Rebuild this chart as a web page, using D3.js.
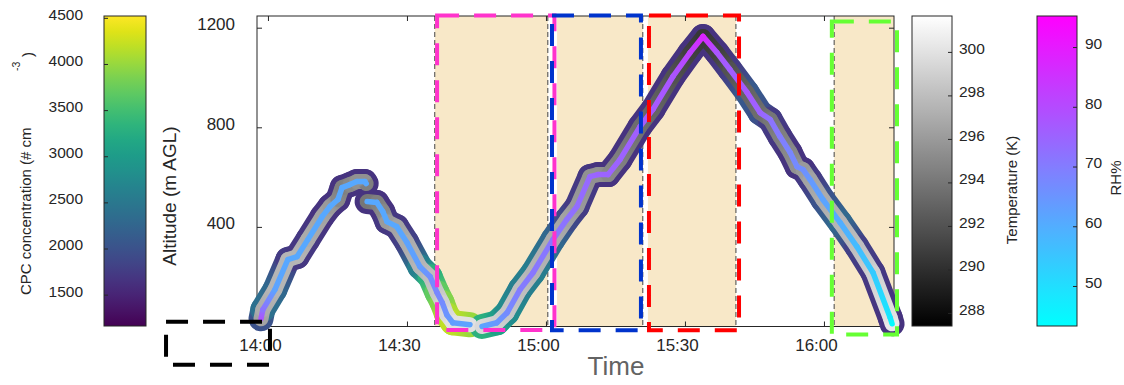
<!DOCTYPE html>
<html><head><meta charset="utf-8">
<script src="https://cdn.jsdelivr.net/npm/d3@7"></script>
<style>body{margin:0;background:#fff}svg{display:block;font-family:"Liberation Sans",Arial,sans-serif}</style>
</head><body><svg id="c" width="1124" height="385"></svg>
<script>
// ---------- data ----------
const times = ["13:58:30","13:58:54","14:01:30","14:04:18","14:06:18","14:08:36","14:11:42","14:13:24","14:15:06","14:16:00","14:17:42","14:19:12","14:20:54","14:21:12","14:21:18","14:21:24","14:23:30","14:24:48","14:25:42","14:27:48","14:30:00","14:32:48","14:35:00","14:36:30","14:37:36","14:38:36","14:39:54","14:43:36","14:45:00","14:46:12","14:49:24","14:51:36","14:54:24","14:57:12","15:01:30","15:04:30","15:06:42","15:09:30","15:11:12","15:13:24","15:16:00","15:20:18","15:23:06","15:27:24","15:31:06","15:33:54","15:36:54","15:39:42","15:43:24","15:46:12","15:48:24","15:50:30","15:52:42","15:54:12","15:55:30","15:57:00","15:59:48","16:03:30","16:07:06","16:10:36","16:14:18","16:14:42"];
const altitude = [31,68,148,269,281,349,441,482,510,558,570,582,582,574,null,502,498,461,421,401,337,240,200,136,96,47,15,7,null,0,15,55,148,216,349,430,482,602,610,610,671,803,872,1004,1100,1165,1100,1032,940,859,831,763,699,642,630,590,509,417,321,216,35,11];
const cpc = [2000,2400,2300,1750,1700,1700,1650,1650,1650,1650,1650,1650,1650,1650,null,1650,1650,1650,1700,1700,1800,2600,3300,3700,3900,4100,4200,4000,null,3300,3100,2800,2600,2600,2300,1900,1750,1700,1650,1650,1650,1650,1650,1650,1650,1650,1650,1750,2100,2000,1750,1700,1650,1650,1650,1750,2000,2300,1800,1700,1650,1650];
const temperature = [296.5,297,297.5,297.5,297.5,297,296.5,296,295,294.5,295,295.5,295.5,294.5,null,294,294.5,295,296,296.5,297,297.5,298,298.5,299,299.5,300,300,null,299.5,299,298.5,298,297.5,297,296.5,296,295.5,295.5,295,294.5,293.5,293,292,291,290.5,291,292,293,293.5,294,294.5,295,295.5,296,296.5,297,297.5,298,299,300,300.5];
const rh = [78,72,62,61,61,61,61,61,61,61,61,61,61,61,null,61,61,61,61,61,62,63,66,68,67,65,63,62,null,62,64,67,70,71,71,72,73,74,75,75,75,76,77,78,82,88,78,76,77,75,72,70,68,67,66,64,62,60,57,54,48,44];

const xLimits = ["13:57:38","16:15:07"];
const yLimits = [0,1247];
const xTicks = ["14:00","14:30","15:00","15:30","16:00"];
const yTicks = [400,800,1200];
const cpcLimits = [1160,4520];
const cpcTicks = [1500,2000,2500,3000,3500,4000,4500];
const tempLimits = [287.4,301.65];
const tempTicks = [288,290,292,294,296,298,300];
const rhLimits = [43.3,95.2];
const rhTicks = [50,60,70,80,90];

const shadeStarts = ["14:36:00","15:02:24","15:22:00","16:02:12"];
const shadeEnds   = ["15:00:24","15:20:54","15:41:00","16:15:07"];
const legLines = ["14:36:00","15:00:24","15:20:54","15:41:00","16:02:12"];

const boxColors = ["#000000","#ff33cc","#0033cc","#ff0000","#66ff33"];
const boxStarts = ["13:38:00","14:36:30","15:01:18","15:22:14","16:01:42"];
const boxEnds   = ["14:00:26","15:01:50","15:20:30","15:41:40","16:15:46"];
const boxTops   = [19,1249,1249,1249,1225];
const boxBottoms= [-154,-14,-15,-15,-32];

// ---------- setup ----------
const svg = d3.select("#c");
const defs = svg.append("defs");
const parse = d3.timeParse("%H:%M:%S");
const parseHM = d3.timeParse("%H:%M");
const ink = "#262626";
const FONT = "Liberation Sans, Arial, sans-serif";

const x = d3.scaleTime().domain(xLimits.map(parse)).range([257,894]);
const y = d3.scaleLinear().domain(yLimits).range([326.5,16]);

const cpcColor = d3.scaleSequential(d3.interpolateViridis).domain(cpcLimits);
const tempInterp = d3.interpolateRgb("#000000","#ffffff");
const tempColor = d3.scaleSequential(tempInterp).domain(tempLimits);
const rhInterp = d3.interpolateRgb("#00ffff","#ff00ff");
const rhColor = d3.scaleSequential(rhInterp).domain(rhLimits);

// ---------- shading ----------
svg.append("g").selectAll("rect").data(shadeStarts).join("rect")
  .attr("x", (d)=>x(parse(d)))
  .attr("width", (d,i)=>x(parse(shadeEnds[i]))-x(parse(d)))
  .attr("y", y(yLimits[1])).attr("height", y(yLimits[0])-y(yLimits[1]))
  .attr("fill","#f8e8c8");

svg.append("g").selectAll("line").data(legLines).join("line")
  .attr("x1",d=>x(parse(d))).attr("x2",d=>x(parse(d)))
  .attr("y1",y(yLimits[1])).attr("y2",y(yLimits[0]))
  .attr("stroke","#444").attr("stroke-width",1).attr("stroke-dasharray","5 3");

// ---------- axes frame ----------
const fx0 = x.range()[0], fx1 = x.range()[1], fy0 = y.range()[1], fy1 = y.range()[0];
svg.append("rect").attr("x",fx0).attr("y",fy0).attr("width",fx1-fx0).attr("height",fy1-fy0)
  .attr("fill","none").attr("stroke",ink).attr("stroke-width",1);

const xtv = xTicks.map(parseHM);
const gb = svg.append("g").attr("transform",`translate(0,${fy1})`)
  .call(d3.axisBottom(x).tickValues(xtv).tickFormat(d3.timeFormat("%H:%M")).tickSize(-5));
const gt = svg.append("g").attr("transform",`translate(0,${fy0})`)
  .call(d3.axisTop(x).tickValues(xtv).tickFormat("").tickSize(-5));
const gl = svg.append("g").attr("transform",`translate(${fx0},0)`)
  .call(d3.axisLeft(y).tickValues(yTicks).tickFormat(d3.format("d")).tickSize(-5));
const gr = svg.append("g").attr("transform",`translate(${fx1},0)`)
  .call(d3.axisRight(y).tickValues(yTicks).tickFormat("").tickSize(-5));
[gb,gt,gl,gr].forEach(g=>{g.select(".domain").remove(); g.selectAll("line").attr("stroke",ink);});
gb.selectAll("text").attr("y",12).attr("dy","0.71em").attr("x",-8)
  .attr("font-size",17).attr("fill",ink).attr("font-family",FONT);
gl.selectAll("text").attr("x",-22).attr("y",-4).attr("dy","0.35em")
  .attr("font-size",17).attr("fill",ink).attr("font-family",FONT);

svg.append("text").attr("transform","translate(176,196) rotate(-90)").attr("text-anchor","middle")
  .attr("font-size",19).attr("fill",ink).text("Altitude (m AGL)");
svg.append("text").attr("x",616).attr("y",375).attr("text-anchor","middle")
  .attr("font-size",26).attr("fill","#636363").text("Time");

// ---------- track ----------
const pts = times.map((t,i)=>({t:parse(t), a:altitude[i], c:cpc[i], T:temperature[i], r:rh[i]}));
const layers = [
  {w:25, col:d=>cpcColor(d.c)},
  {w:15, col:d=>tempColor(d.T)},
  {w:5.5,  col:d=>rhColor(d.r)}
];
const segs = [];
for (let i=0;i<pts.length-1;i++){
  if (pts[i].a!=null && pts[i+1].a!=null) segs.push([pts[i],pts[i+1],i]);
}
layers.forEach((L,li)=>{
  const g = svg.append("g");
  segs.forEach(([p,q,i])=>{
    const id = `g${li}_${i}`;
    const x1=x(p.t), y1=y(p.a), x2=x(q.t), y2=y(q.a);
    const lg = defs.append("linearGradient").attr("id",id).attr("gradientUnits","userSpaceOnUse")
      .attr("x1",x1).attr("y1",y1).attr("x2",x2).attr("y2",y2);
    lg.append("stop").attr("offset",0).attr("stop-color",L.col(p));
    lg.append("stop").attr("offset",1).attr("stop-color",L.col(q));
    g.append("line").attr("x1",x1).attr("y1",y1).attr("x2",x2).attr("y2",y2)
      .attr("stroke",`url(#${id})`).attr("stroke-width",L.w).attr("stroke-linecap","round");
  });
});

// ---------- dashed boxes ----------
svg.append("g").selectAll("rect").data(boxColors).join("rect")
  .attr("x",(d,i)=>x(parse(boxStarts[i])))
  .attr("y",(d,i)=>y(boxTops[i]))
  .attr("width",(d,i)=>x(parse(boxEnds[i]))-x(parse(boxStarts[i])))
  .attr("height",(d,i)=>y(boxBottoms[i])-y(boxTops[i]))
  .attr("fill","none").attr("stroke",d=>d).attr("stroke-width",4)
  .attr("stroke-dasharray","22 15");

// ---------- colorbars ----------
function colorbar(x0, w, limits, interp, ticks, side, lx, id){
  const s = d3.scaleLinear().domain(limits).range([326,16]);
  const lg = defs.append("linearGradient").attr("id",id).attr("x1",0).attr("y1",1).attr("x2",0).attr("y2",0);
  d3.range(0,1.0001,0.05).forEach(t=>lg.append("stop").attr("offset",t).attr("stop-color",interp(t)));
  svg.append("rect").attr("x",x0).attr("y",16).attr("width",w).attr("height",310)
    .attr("fill",`url(#${id})`).attr("stroke",ink).attr("stroke-width",1);
  const g = svg.append("g");
  const fmt = d3.format("d");
  if (side==="left"){
    g.attr("transform",`translate(${x0},0)`).call(d3.axisLeft(s).tickValues(ticks).tickFormat(fmt).tickSize(-4));
  } else {
    g.attr("transform",`translate(${x0+w},0)`).call(d3.axisRight(s).tickValues(ticks).tickFormat(fmt).tickSize(-4));
  }
  g.selectAll("text").attr("x",lx);
  g.select(".domain").remove();
  g.selectAll("line").attr("stroke",ink);
  g.selectAll("text").attr("y",-4).attr("dy","0.35em").attr("font-size",15.5).attr("fill",ink)
    .attr("font-family",FONT);
}
colorbar(104,42,cpcLimits,d3.interpolateViridis,cpcTicks,"left",-21,"cbCpc");
colorbar(912,40,tempLimits,tempInterp,tempTicks,"right",7,"cbT");
colorbar(1037,40,rhLimits,rhInterp,rhTicks,"right",8,"cbRh");

svg.append("text").attr("transform","translate(31,295) rotate(-90)").attr("text-anchor","start")
  .attr("font-size",15).attr("fill",ink).text("CPC concentration (# cm");
svg.append("text").attr("transform","translate(20,71) rotate(-90)").attr("text-anchor","start")
  .attr("font-size",10.5).attr("fill",ink).text("-3");
svg.append("text").attr("transform","translate(33,57) rotate(-90)").attr("text-anchor","start")
  .attr("font-size",15).attr("fill",ink).text(")");
svg.append("text").attr("transform","translate(1017,190) rotate(-90)").attr("text-anchor","middle")
  .attr("font-size",15).attr("fill",ink).text("Temperature (K)");
svg.append("text").attr("transform","translate(1121,178) rotate(-90)").attr("text-anchor","middle")
  .attr("font-size",15).attr("fill",ink).text("RH%");
</script></body></html>
